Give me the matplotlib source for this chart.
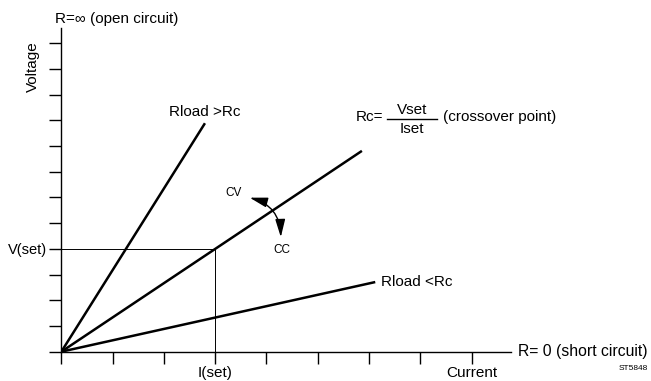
import matplotlib.pyplot as plt
from matplotlib.patches import FancyArrowPatch

plt.rcParams['font.family'] = ['Liberation Sans', 'DejaVu Sans']

# data (axis units = tick steps)
x_ticks = [0, 1, 2, 3, 4, 5, 6, 7, 8]
y_ticks = [0, 1, 2, 3, 4, 5, 6, 7, 8, 9, 10, 11, 12]
i_set = 3
v_set = 4
x_max = 8.77
y_max = 12.58

rload_high_x = [0, 2.80]
rload_high_y = [0, 8.89]
rc_x = [0, 5.86]
rc_y = [0, 5.86 * v_set / i_set]
rload_low_x = [0, 6.12]
rload_low_y = [0, 2.71]

x_labels = {3: 'I(set)', 8: 'Current'}
y_labels = {4: 'V(set)'}

fig = plt.figure(figsize=(6.51, 3.81), dpi=100)
ax = fig.add_axes([0.0942, 0.0769, 0.691, 0.8486])
ax.set_xlim(0, x_max)
ax.set_ylim(0, y_max)
for s in ['top', 'right']:
    ax.spines[s].set_visible(False)
for s in ['left', 'bottom']:
    ax.spines[s].set_linewidth(1.0)

ax.set_xticks(x_ticks)
ax.set_xticklabels([x_labels.get(t, '') for t in x_ticks], fontsize=11)
ax.set_yticks(y_ticks)
ax.set_yticklabels([y_labels.get(t, '') for t in y_ticks], fontsize=10.5)
ax.tick_params(axis='x', length=8.5, width=1.0, pad=1.5)
ax.tick_params(axis='y', length=8.5, width=1.0, pad=1.5)

# set point guide lines
ax.plot([0, i_set], [v_set, v_set], color='black', lw=0.7)
ax.plot([i_set, i_set], [0, v_set], color='black', lw=0.7)

# load lines
ax.plot(rload_high_x, rload_high_y, color='black', lw=1.8, solid_capstyle='butt')
ax.plot(rc_x, rc_y, color='black', lw=1.8, solid_capstyle='butt')
ax.plot(rload_low_x, rload_low_y, color='black', lw=1.8, solid_capstyle='butt')

# CV / CC arrow
arr = FancyArrowPatch((3.62, 6.02), (4.28, 4.35),
                      connectionstyle='arc3,rad=-0.4',
                      arrowstyle='<|-|>,head_length=0.9,head_width=0.25',
                      mutation_scale=12, color='black', lw=1.0)
ax.add_patch(arr)
ax.text(3.35, 6.17, 'CV', fontsize=8.5, ha='center', va='center')
ax.text(4.30, 3.95, 'CC', fontsize=8.5, ha='center', va='center')

# annotations
ax.text(2.80, 9.33, 'Rload >Rc', fontsize=11, ha='center', va='center')
ax.text(6.23, 2.70, 'Rload <Rc', fontsize=11, ha='left', va='center')

# Rc = Vset / Iset
ax.text(6.27, 9.13, 'Rc=', fontsize=11, ha='right', va='center')
ax.text(6.84, 9.40, 'Vset', fontsize=11, ha='center', va='center')
ax.text(6.84, 8.66, 'Iset', fontsize=11, ha='center', va='center')
ax.plot([6.35, 7.32], [9.05, 9.05], color='black', lw=1.0, clip_on=False)
ax.text(7.44, 9.13, '(crossover point)', fontsize=11, ha='left', va='center')

ax.text(-0.12, 12.93, 'R=\u221e (open circuit)', fontsize=11, ha='left', va='center',
        clip_on=False)
ax.text(-0.55, 11.1, 'Voltage', fontsize=11, rotation=90, ha='center', va='center',
        clip_on=False)
ax.text(8.90, 0, 'R= 0 (short circuit)', fontsize=11.3, ha='left', va='center',
        clip_on=False)
fig.text(648 / 651, 1 - 369 / 381, 'ST5848', fontsize=6, ha='right', va='center')

fig.savefig('out.png', dpi=100)
